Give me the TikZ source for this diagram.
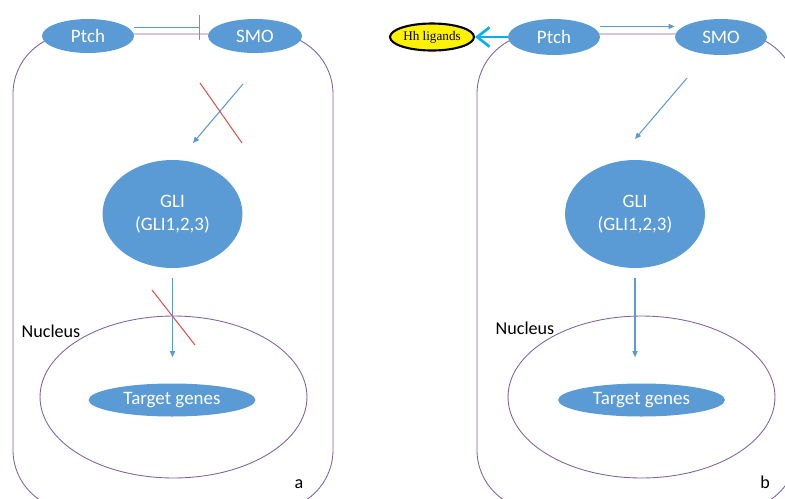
\documentclass[tikz,border=0pt]{standalone}
\usepackage{fontspec}
\setmainfont{Carlito}
\newfontfamily\timesfont{Liberation Serif}
\usetikzlibrary{arrows.meta,shapes.geometric}
\definecolor{cellblue}{HTML}{5B9BD5}
\definecolor{membrane}{HTML}{8064A2}
\definecolor{blockred}{HTML}{D9534F}
\definecolor{hhcyan}{HTML}{00B0F0}

\begin{document}
\begin{tikzpicture}[x=0.02cm,y=-0.02cm,
  mol/.style={ellipse,fill=cellblue,text=white,inner sep=0pt,font=\fontsize{10.8}{13}\selectfont},
  wall/.style={membrane,line width=0.5pt},
  sig/.style={cellblue,line width=0.6pt,-{Triangle[length=3.5pt,width=3pt]}},
  cut/.style={blockred,line width=0.6pt},
  lbl/.style={font=\fontsize{10.3}{13}\selectfont}]
  \useasboundingbox (0,0) rectangle (785,498);
  \clip (0,0) rectangle (785,498);

  % panel a
  \draw[wall,rounded corners=1.2cm] (13,34) rectangle (333,510);
  \node[mol,minimum width=1.84cm,minimum height=0.68cm] (ptchA) at (88,36) {Ptch};
  \node[mol,minimum width=1.88cm,minimum height=0.68cm] (smoA) at (255,36) {SMO};
  \node[mol,minimum width=2.8cm,minimum height=2.16cm,align=center] (gliA) at (172.5,214) {GLI\\(GLI1,2,3)};
  \draw[wall] (173.5,397) ellipse [x radius=2.67cm,y radius=1.62cm];
  \node[lbl] (nucA) at (51,331) {Nucleus};
  \node[mol,minimum width=3.34cm,minimum height=0.66cm] (genesA) at (172,400) {Target genes};
  \node[lbl] (tagA) at (299,484) {a};
  \draw[cellblue,line width=0.5pt,-{Bar[width=0.5cm]}] ([yshift=5pt]ptchA.east) -- ([yshift=5pt,xshift=-0.16cm]smoA.west);
  \coordinate (smoOutA) at (243,84);
  \coordinate (gliInA) at (193,143);
  \draw[sig] (smoOutA) -- (gliInA);
  \draw[cut] (200,83) -- (242,143);
  \draw[sig,shorten <=0.2cm,shorten >=0.52cm] (gliA.south) -- (gliA.south |- genesA.north);
  \draw[cut] (152,290) -- (195,345);

  % panel b
  \draw[wall,rounded corners=1.2cm] (477,34) rectangle (797,510);
  \node[mol,minimum width=1.84cm,minimum height=0.72cm] (ptchB) at (554,37) {Ptch};
  \node[mol,minimum width=1.84cm,minimum height=0.72cm] (smoB) at (721,37) {SMO};
  \node[ellipse,draw=black,line width=1.2pt,fill=yellow,inner sep=0pt,minimum width=1.68cm,minimum height=0.54cm,
    font=\timesfont\fontsize{7.5}{9}\selectfont] (hhB) at (432,37) {Hh ligands};
  \node[mol,minimum width=2.8cm,minimum height=2.16cm,align=center] (gliB) at (635,214) {GLI\\(GLI1,2,3)};
  \draw[wall] (641.5,397) ellipse [x radius=2.67cm,y radius=1.62cm];
  \node[lbl] (nucB) at (525,328) {Nucleus};
  \node[mol,minimum width=3.34cm,minimum height=0.66cm] (genesB) at (641.5,400) {Target genes};
  \node[lbl] (tagB) at (765,482) {b};
  \draw[hhcyan,line width=1.5pt,-{Straight Barb[length=7pt,width=11pt]}] (ptchB.west) -- (hhB.east);
  \draw[sig] ([yshift=6pt]ptchB.east) -- ([yshift=6pt]smoB.west);
  \coordinate (smoOutB) at (687,78);
  \coordinate (gliInB) at (635,139);
  \draw[sig] (smoOutB) -- (gliInB);
  \draw[sig,shorten <=0.2cm,shorten >=0.52cm] (gliB.south) -- (gliB.south |- genesB.north);
\end{tikzpicture}
\end{document}
